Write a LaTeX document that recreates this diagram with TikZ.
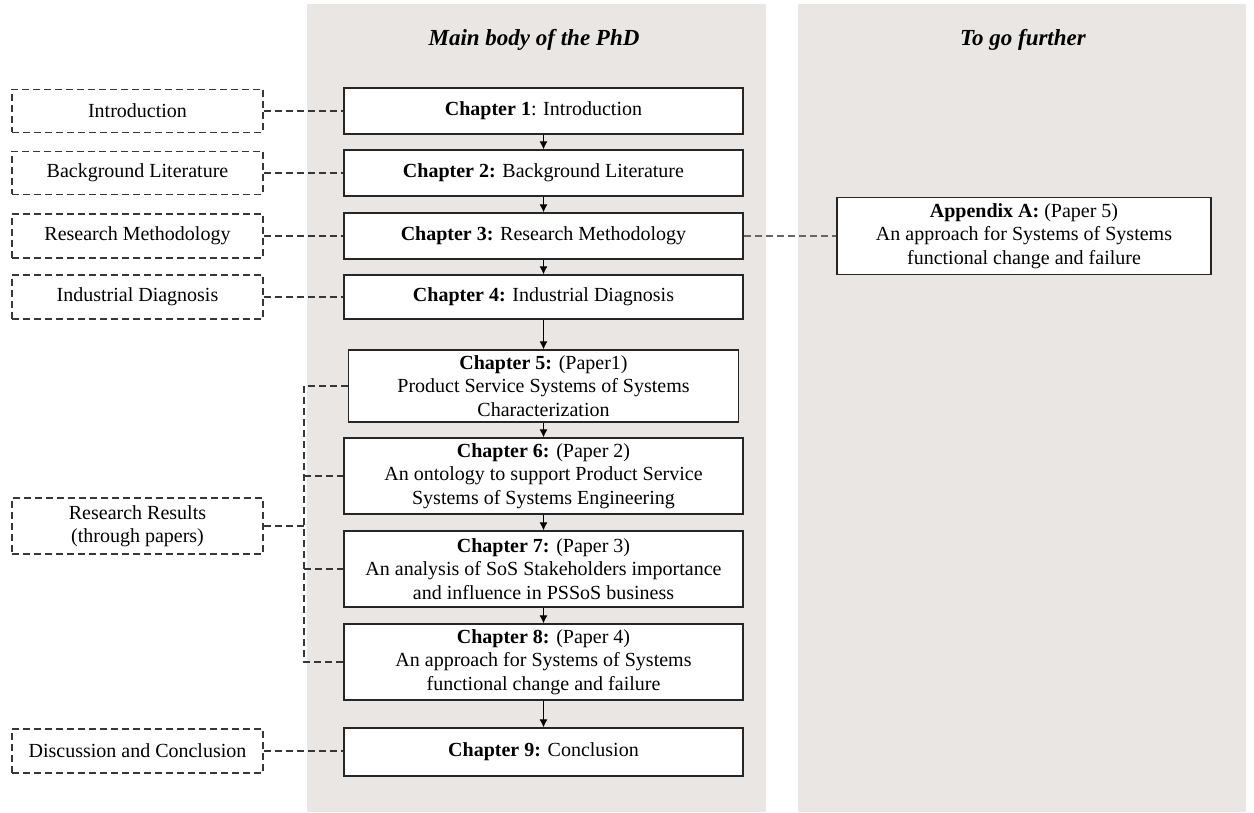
\documentclass[tikz,border=0pt]{standalone}
\usepackage{fontspec}
\setmainfont{Liberation Serif}
\usetikzlibrary{arrows.meta}
\definecolor{panel}{RGB}{234,230,227}
\definecolor{dline}{RGB}{55,55,55}
\begin{document}
\begin{tikzpicture}[x=1pt,y=-1pt,
  txt/.style={font=\fontsize{20}{23.5}\selectfont, align=center, inner sep=0pt},
  chap/.style={txt, draw=black!85, line width=1.3pt, fill=white, minimum width=399pt},
  side/.style={txt, draw=dline, line width=1.2pt, dash pattern=on 7pt off 4pt, minimum width=251pt},
  link/.style={draw=dline, line width=1.3pt, dash pattern=on 7pt off 4pt},
  flow/.style={draw=black, line width=1.1pt, -{Latex[length=8pt,width=8pt]}},
  ttl/.style={font=\fontsize{23}{26}\selectfont\bfseries\itshape, inner sep=0pt, anchor=base}
]
\useasboundingbox (0,0) rectangle (1254,813);
\fill[panel] (307,4) rectangle (766,812);
\fill[panel] (798,4) rectangle (1246,812);
\node[ttl] (t1) at (534,46) {Main body of the PhD};
\node[ttl] (t2) at (1023,46) {To go further};

% chapters
\node[chap, minimum height=46pt] (c1) at (543.5,111) {\textbf{Chapter 1}: Introduction};
\node[chap, minimum height=46pt] (c2) at (543.5,173) {\textbf{Chapter 2:} Background Literature};
\node[chap, minimum height=46pt] (c3) at (543.5,236) {\textbf{Chapter 3:} Research Methodology};
\node[chap, minimum height=44pt] (c4) at (543.5,297) {\textbf{Chapter 4:} Industrial Diagnosis};
\node[chap, minimum height=72pt, minimum width=390pt] (c5) at (543.5,386) {\textbf{Chapter 5:} (Paper1)\\Product Service Systems of Systems\\Characterization};
\node[chap, minimum height=76pt] (c6) at (543.5,476) {\textbf{Chapter 6:} (Paper 2)\\An ontology to support Product Service\\Systems of Systems Engineering};
\node[chap, minimum height=76pt] (c7) at (543.5,569) {\textbf{Chapter 7:} (Paper 3)\\An analysis of SoS Stakeholders importance\\and influence in PSSoS business};
\node[chap, minimum height=76pt] (c8) at (543.5,662) {\textbf{Chapter 8:} (Paper 4)\\An approach for Systems of Systems\\functional change and failure};
\node[chap, minimum height=48pt] (c9) at (543.5,752) {\textbf{Chapter 9:} Conclusion};

\node[chap, minimum height=77pt, minimum width=374pt] (app) at (1024,236) {\textbf{Appendix A:} (Paper 5)\\An approach for Systems of Systems\\functional change and failure};

% side boxes
\node[side, minimum height=43pt] (s1) at (137.5,111) {Introduction};
\node[side, minimum height=43pt] (s2) at (137.5,173) {Background Literature};
\node[side, minimum height=44pt] (s3) at (137.5,236) {Research Methodology};
\node[side, minimum height=44pt] (s4) at (137.5,297) {Industrial Diagnosis};
\node[side, minimum height=56pt] (s5) at (137.5,526) {Research Results\\(through papers)};
\node[side, minimum height=44pt] (s6) at (137.5,751) {Discussion and Conclusion};

% flow arrows
\foreach \a/\b in {c1/c2,c2/c3,c3/c4,c4/c5,c5/c6,c6/c7,c7/c8,c8/c9}
  \draw[flow] (\a.south) -- (\b.north);

% dashed links
\draw[link] (s1.east) -- (c1.west |- s1.east);
\draw[link] (s2.east) -- (c2.west |- s2.east);
\draw[link] (s3.east) -- (c3.west |- s3.east);
\draw[link] (s4.east) -- (c4.west |- s4.east);
\draw[link] (s6.east) -- (c9.west |- s6.east);
\draw[link, draw=black!60] (c3.east) -- (app.west |- c3.east);

\coordinate (bx) at (304,526);
\draw[link] (s5.east) -- (bx);
\draw[link] (c5.west) -- (bx |- c5.west) -- (bx |- c8.west) -- (c8.west);
\draw[link] (bx |- c6.west) -- (c6.west);
\draw[link] (bx |- c7.west) -- (c7.west);
\end{tikzpicture}
\end{document}
